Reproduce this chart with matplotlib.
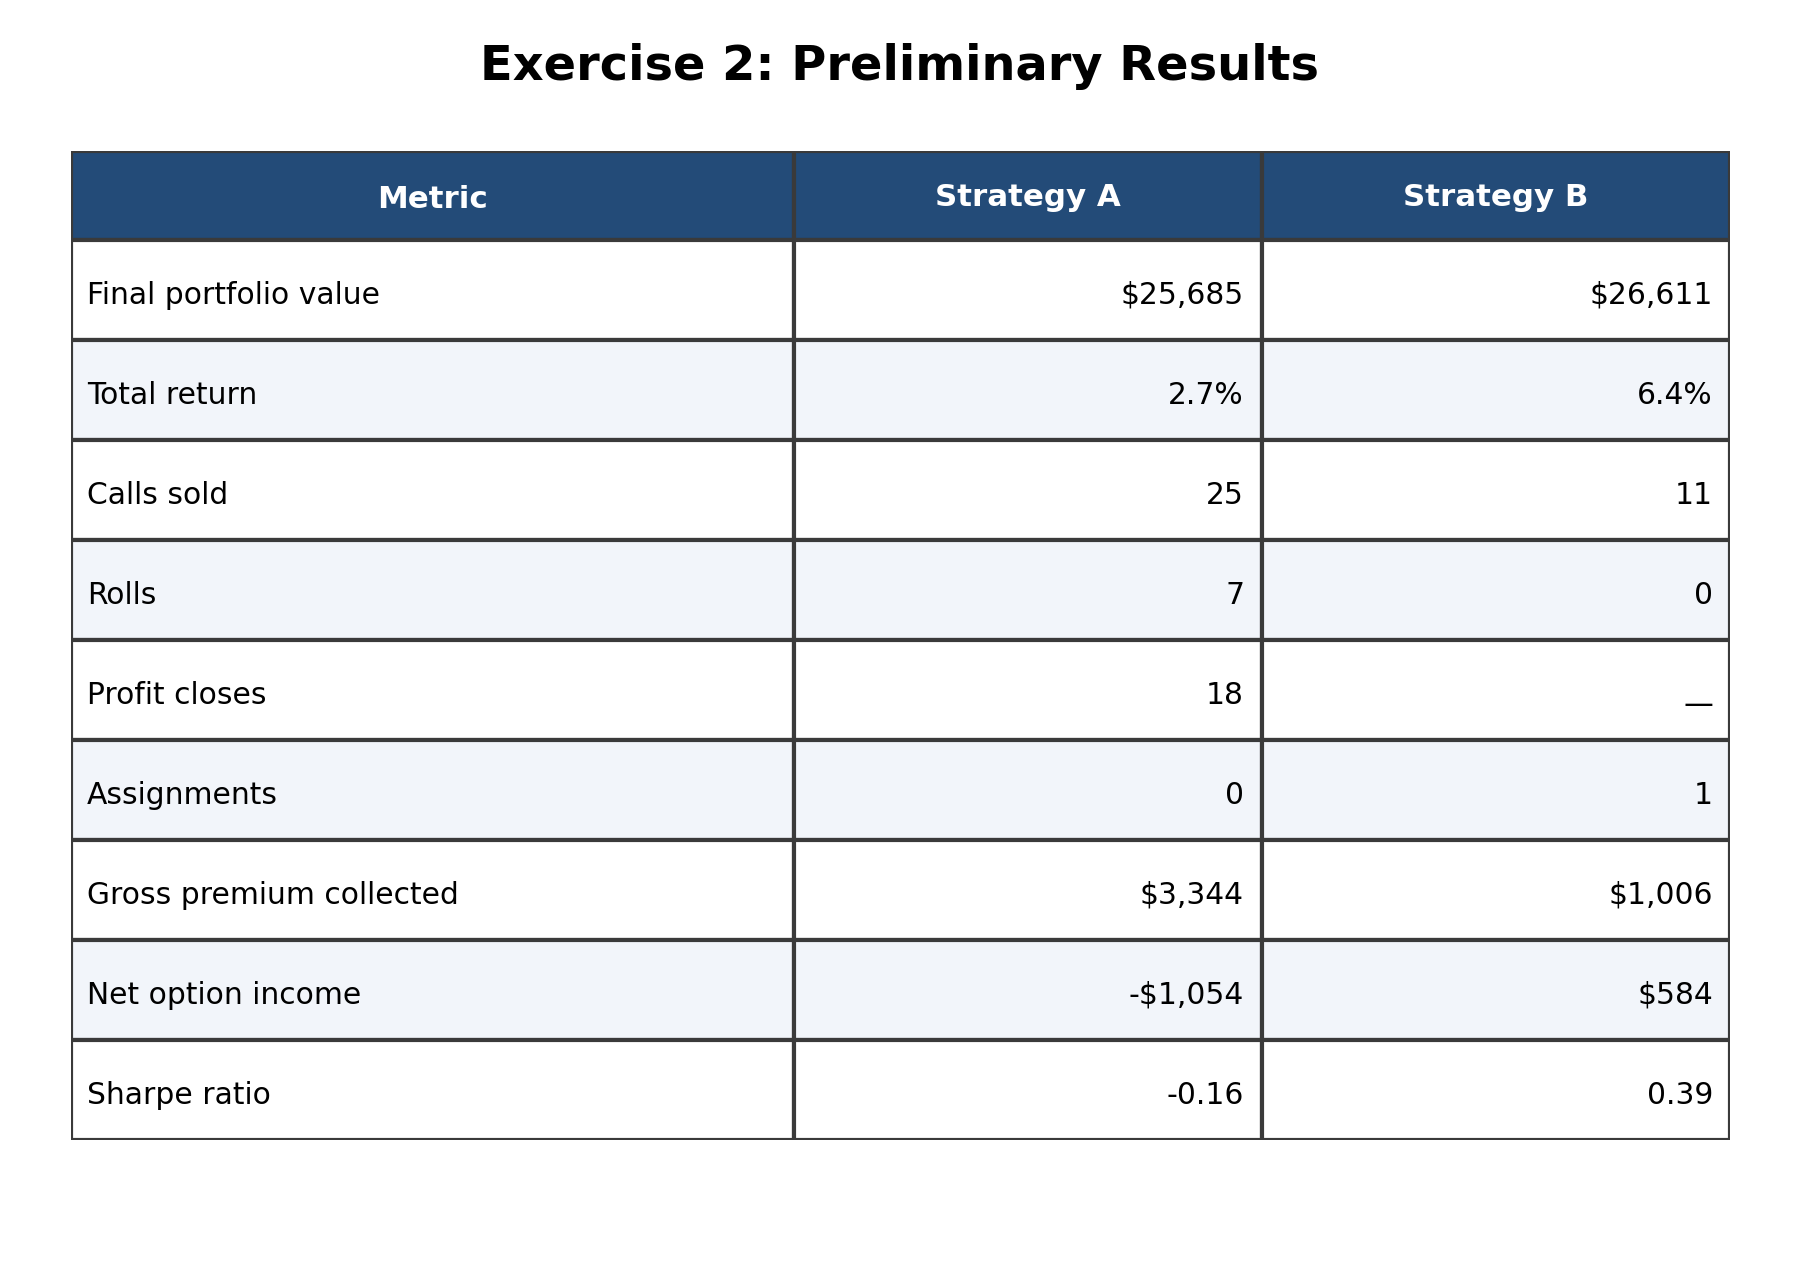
import matplotlib
matplotlib.use("Agg")
import matplotlib.pyplot as plt
from matplotlib.table import Table
from matplotlib.transforms import Affine2D

title = "Exercise 2: Preliminary Results"
col_labels = ["Metric", "Strategy A", "Strategy B"]
metrics = ["Final portfolio value", "Total return", "Calls sold", "Rolls",
           "Profit closes", "Assignments", "Gross premium collected",
           "Net option income", "Sharpe ratio"]
strategy_a = ["$25,685", "2.7%", "25", "7", "18", "0", "$3,344", "-$1,054", "-0.16"]
strategy_b = ["$26,611", "6.4%", "11", "0", "\u2014", "1", "$1,006", "$584", "0.39"]

W, H, DPI = 1800, 1280, 150
fig = plt.figure(figsize=(W / DPI, H / DPI), dpi=DPI)
fig.text(0.5, 1 - 80 / H, title, ha="center", va="baseline",
         fontsize=23, fontweight="bold")

# table area in pixels
left, right, top, bottom = 71, 1730, 151, 1140
ax = fig.add_axes([left / W, 1 - bottom / H, (right - left) / W, (bottom - top) / H])
ax.axis("off")

col_px = [723.5, 467.5, 468]  # column widths in pixels
pad_px = [16, 18, 17]          # text padding from cell edge
header_color = "#234b78"
stripe = "#f2f5fa"
edge = "#3a3a3a"

tbl = Table(ax, bbox=[0, 0, 1, 1])
for c, label in enumerate(col_labels):
    cell = tbl.add_cell(0, c, width=col_px[c], height=89, text=label, loc="center",
                        facecolor=header_color, edgecolor=edge)
    txt = cell.get_text()
    txt.set_color("white")
    txt.set_fontweight("bold")
    txt.set_fontsize(14.8)
    # text sits a little low in the reference (less for labels with descenders)
    dy = 4 if label == "Metric" else 2
    txt.set_transform(Affine2D().translate(0, -dy))

rows = list(zip(metrics, strategy_a, strategy_b))
for r, row in enumerate(rows, start=1):
    fc = stripe if r % 2 == 0 else "white"
    for c, val in enumerate(row):
        loc = "left" if c == 0 else "right"
        cell = tbl.add_cell(r, c, width=col_px[c], height=100, text=val, loc=loc,
                            facecolor=fc, edgecolor=edge)
        txt = cell.get_text()
        txt.set_fontsize(14.3)
        dy = 14.5 if val == "\u2014" else 5
        txt.set_transform(Affine2D().translate(0, -dy))

tbl.auto_set_font_size(False)
for (r, c), cell in tbl.get_celld().items():
    cell.set_linewidth(2.0)
    cell.PAD = pad_px[c] / col_px[c]
    cell.set_clip_box(ax.bbox)
    cell.set_clip_on(True)
ax.add_table(tbl)

fig.savefig("out.png", dpi=DPI)
